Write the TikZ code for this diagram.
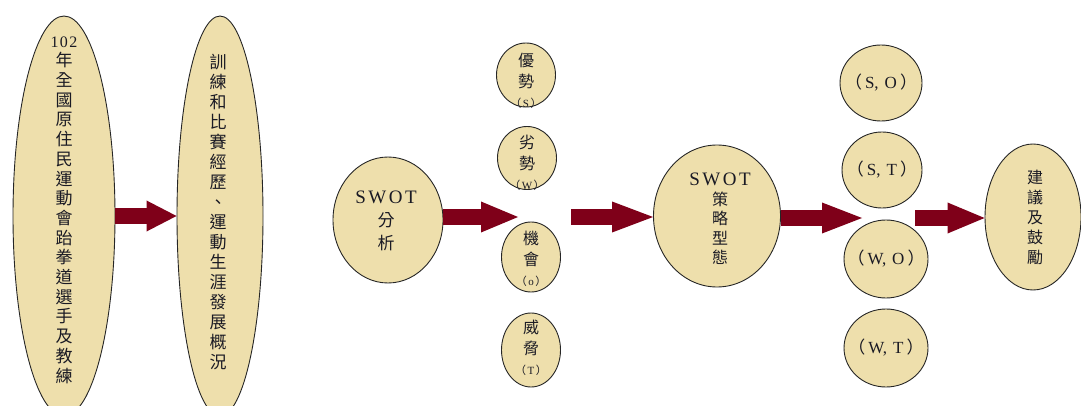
\documentclass[tikz,border=0pt]{standalone}
\usepackage{fontspec}
\setmainfont{Liberation Serif}
\newfontfamily\cjk{Noto Sans CJK TC}
\usetikzlibrary{shapes.geometric,arrows.meta}
\definecolor{bubblefill}{HTML}{EEDFAC}
\definecolor{arrowred}{HTML}{7F0019}
\definecolor{inktext}{HTML}{1A1A24}
% spaced Latin letters
\newcommand\swotword{{\rmfamily\fontsize{19}{20}\selectfont S\kern2.5pt W\kern2.5pt O\kern2.5pt T}}
\newcommand\pairlabel[2]{{\cjk（}\kern3pt#1,\kern6pt#2\kern3pt{\cjk）}}
\newcommand\smalltag[1]{{\cjk\fontsize{11}{16}\selectfont（\kern1.5pt{\rmfamily #1}\kern1.5pt）}}
\begin{document}
\begin{tikzpicture}[x=1pt,y=-1pt,
  bubble/.style={ellipse, draw=black!85, line width=0.9pt, fill=bubblefill, inner sep=0pt},
  bigarrow/.style={draw=arrowred, line width=16pt,
    -{Triangle[length=#1, width=31pt, line width=0pt]}},
  bigarrow/.default=36pt,
  txt/.style={align=center, inner sep=0pt, text=inktext}]
\useasboundingbox (0,0) rectangle (1081,406);
\clip (0,0) rectangle (1081,406);

% bubbles
\node[bubble, minimum width=102pt, minimum height=400pt] (goal) at (64,216) {};
\node[bubble, minimum width=86pt, minimum height=400pt] (exp) at (220,216) {};
\node[bubble, minimum width=110pt, minimum height=126pt] (swot) at (388,220) {};
\node[bubble, minimum width=59pt, minimum height=64pt] (s) at (526,75) {};
\node[bubble, minimum width=59pt, minimum height=63pt] (w) at (527,158) {};
\node[bubble, minimum width=59pt, minimum height=70pt] (o) at (531,257) {};
\node[bubble, minimum width=59pt, minimum height=74pt] (t) at (531,350) {};
\node[bubble, minimum width=127pt, minimum height=142pt] (strat) at (717,216) {};
\node[bubble, minimum width=82pt, minimum height=76pt] (so) at (881,83) {};
\node[bubble, minimum width=80pt, minimum height=76pt] (st) at (882,170) {};
\node[bubble, minimum width=84pt, minimum height=78pt] (wo) at (886,259) {};
\node[bubble, minimum width=84pt, minimum height=78pt] (wt) at (886,348) {};
\node[bubble, minimum width=96pt, minimum height=146pt] (adv) at (1033,217) {};

% texts
\node[txt, font=\cjk\fontsize{17}{19.7}\selectfont] (goaltxt) at (64,210)
  {{\rmfamily\fontsize{16}{19.7}\selectfont 1\kern1.5pt0\kern1.5pt2}\\年\\全\\國\\原\\住\\民\\運\\動\\會\\跆\\拳\\道\\選\\手\\及\\教\\練};
\node[txt, font=\cjk\fontsize{17}{20}\selectfont] (exptxt) at (218,212)
  {訓\\練\\和\\比\\賽\\經\\歷\\、\\運\\動\\生\\涯\\發\\展\\概\\況};
\node[txt, font=\cjk\fontsize{17}{23}\selectfont] (swottxt) at (386,221)
  {\swotword\\分\\析};
\node[txt, font=\cjk\fontsize{16}{20.5}\selectfont] (stxt) at (526,81) {優\\勢\\\smalltag{S}};
\node[txt, font=\cjk\fontsize{16}{20.5}\selectfont] (wtxt) at (527,163) {劣\\勢\\\smalltag{W}};
\node[txt, font=\cjk\fontsize{16}{20.5}\selectfont] (otxt) at (531,259) {機\\會\\\smalltag{o}};
\node[txt, font=\cjk\fontsize{16}{20.5}\selectfont] (ttxt) at (531,348) {威\\脅\\\smalltag{T}};
\node[txt, font=\cjk\fontsize{16}{19.5}\selectfont] (strattxt) at (720,219)
  {\swotword\\策\\略\\型\\態};
\node[txt, font=\fontsize{17}{18}\selectfont] (sotxt) at (881,83) {\pairlabel{S}{O}};
\node[txt, font=\fontsize{17}{18}\selectfont] (sttxt) at (882,170) {\pairlabel{S}{T}};
\node[txt, font=\fontsize{17}{18}\selectfont] (wotxt) at (886,259) {\pairlabel{W}{O}};
\node[txt, font=\fontsize{17}{18}\selectfont] (wttxt) at (886,348) {\pairlabel{W}{T}};
\node[txt, font=\cjk\fontsize{16}{20}\selectfont] (advtxt) at (1035,217)
  {建\\議\\及\\鼓\\勵};

% free arrow ends in the gaps between the columns
\coordinate (gapA) at (518,217);
\coordinate (srcB) at (571,217);
\coordinate (gapC) at (862,218);
\coordinate (srcD) at (915,218);

% block arrows
\draw[bigarrow=30pt] (goal.east) -- (exp.west);
\draw[bigarrow=37pt] (swot.east |- gapA) -- (gapA);
\draw[bigarrow=41pt] (srcB) -- (strat.west |- srcB);
\draw[bigarrow=40pt] (strat.east |- gapC) -- (gapC);
\draw[bigarrow=37pt] (srcD) -- (adv.west |- srcD);
\end{tikzpicture}
\end{document}
